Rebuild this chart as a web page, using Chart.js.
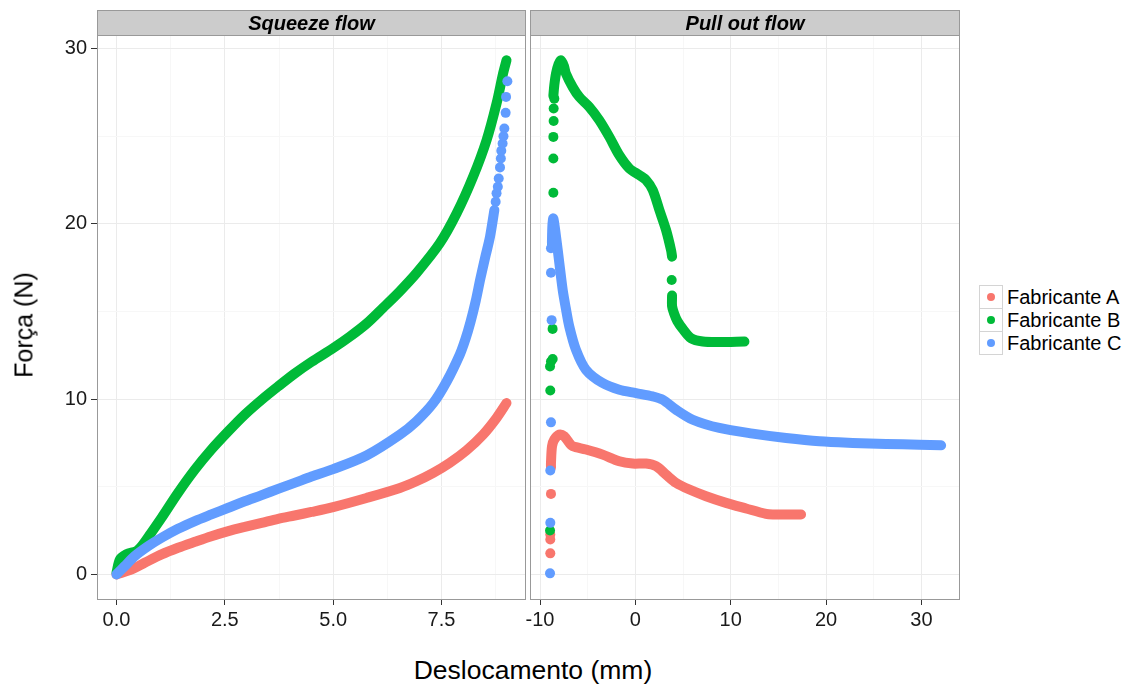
<!DOCTYPE html>
<html lang="pt">
<head>
<meta charset="utf-8">
<title>Squeeze flow / Pull out flow</title>
<script src="https://cdn.jsdelivr.net/npm/chart.js@4.4.1/dist/chart.umd.min.js"></script>
<style>
  body { margin: 0; background: #fff; }
  #quadro { position: relative; width: 1135px; height: 686px; font-family: "Liberation Sans", Arial, sans-serif; color: #000; overflow: hidden; }
  canvas { position: absolute; top: 0; }
  #squeeze { left: 0; }
  #pull { left: 500px; }
  #tituloX { position: absolute; left: 533px; top: 657px; transform: translateX(-50%); font-size: 26.5px; line-height: 1; white-space: nowrap; }
  #tituloY { position: absolute; left: 24px; top: 325px; transform: translate(-50%, -50%) rotate(-90deg); font-size: 25px; line-height: 1; white-space: nowrap; }
  #legenda { position: absolute; left: 979px; top: 285px; }
  .item { display: flex; align-items: center; height: 24px; font-size: 20px; line-height: 24px; white-space: nowrap; }
  .item + .item { margin-top: -1px; }
  .chave { width: 24px; height: 24px; box-sizing: border-box; border: 1px solid #d4d4d4; display: flex; align-items: center; justify-content: center; margin-right: 4px; background: #fff; }
  .chave i { width: 8px; height: 8px; border-radius: 50%; display: block; }
</style>
</head>
<body>
<div id="quadro">
  <canvas id="squeeze" width="528" height="640"></canvas>
  <canvas id="pull" width="462" height="640"></canvas>
  <div id="tituloX">Deslocamento (mm)</div>
  <div id="tituloY">Força (N)</div>
  <div id="legenda"></div>
</div>

<script>
// fabricantes e cores (paleta padrão do ggplot)
const fabricantes = ['Fabricante A', 'Fabricante B', 'Fabricante C'];
const cores = ['#F8766D', '#00BA38', '#619CFF'];

// Squeeze flow: [deslocamento (mm), força (N)]
const squeezeA = [[0,0],[0.35,0.28],[0.65,0.66],[1.04,1.14],[1.42,1.52],[1.81,1.86],[2.19,2.18],[2.58,2.47],
  [2.96,2.71],[3.35,2.94],[3.73,3.17],[4.11,3.36],[4.5,3.56],[5.0,3.84],[5.77,4.36],[6.54,4.93],[6.92,5.31],
  [7.31,5.79],[7.69,6.36],[8.08,7.08],[8.46,7.97],[8.77,8.92],[9.0,9.77]];
const squeezeB = [[0,0.1],[0.08,0.85],[0.23,1.15],[0.46,1.33],[0.58,1.61],[0.8,2.37],[1.04,3.23],[1.42,4.65],
  [1.81,5.98],[2.19,7.12],[2.58,8.16],[2.96,9.11],[3.35,9.96],[3.73,10.72],[4.11,11.45],[4.5,12.12],[5.0,12.9],
  [5.38,13.55],[5.77,14.3],[6.15,15.2],[6.54,16.15],[6.92,17.17],[7.46,18.88],[7.85,20.59],[8.23,22.68],
  [8.54,24.76],[8.77,26.85],[8.92,28.56],[9.0,29.32]];
const squeezeC = [[0,0],[0.19,0.47],[0.42,1.04],[0.73,1.61],[1.04,2.09],[1.42,2.6],[1.81,3.04],[2.19,3.42],
  [2.58,3.8],[2.96,4.17],[3.35,4.52],[3.73,4.88],[4.11,5.22],[4.5,5.58],[5.0,6.0],[5.77,6.78],[6.54,7.97],
  [6.92,8.73],[7.31,9.77],[7.62,11.0],[7.92,12.52],[8.05,13.4],[8.17,14.4],[8.29,15.6],[8.4,16.9],[8.52,18.2],
  [8.62,19.26],[8.72,20.78]];
const squeezeCSoltos = [[8.75,21.25],[8.77,21.73],[8.8,22.11],[8.82,22.58],[8.85,23.21],[8.87,23.72],[8.88,24.16],
  [8.91,24.57],[8.93,24.99],[8.95,25.43],[8.98,26.32],[8.99,27.23],[9.02,28.12]];

// Pull out flow
const pullA = [[-8.85,6.1],[-8.85,6.36],[-8.74,7.31],[-8.5,7.69],[-7.97,7.97],[-7.45,7.87],[-6.93,7.5],[-6.58,7.31],
  [-5.18,7.12],[-3.43,6.83],[-1.68,6.45],[-0.28,6.32],[1.12,6.32],[2.17,6.17],[3.22,5.69],[4.27,5.22],[5.67,4.84],
  [7.42,4.46],[9.51,4.08],[11.61,3.76],[13.71,3.45],[14.41,3.42],[17.38,3.42]];
const pullASoltos = [[-8.85,4.59],[-8.92,2.28],[-8.92,1.99],[-8.92,1.2]];
const pullB = [[-8.6,27.3],[-8.5,27.9],[-8.32,28.56],[-8.05,29.1],[-7.8,29.32],[-7.5,29.0],[-7.28,28.56],[-6.58,27.8],
  [-5.88,27.23],[-4.83,26.66],[-3.78,25.9],[-2.73,24.95],[-1.68,23.9],[-0.63,23.15],[0.42,22.77],[1.12,22.49],
  [1.82,21.92],[2.52,20.78],[3.22,19.64],[3.74,18.5],[3.85,18.12]];
const pullB2 = [[3.85,15.9],[3.85,15.3],[4.05,14.9],[4.4,14.45],[4.97,14.0],[5.84,13.47],[7.07,13.28],[8.81,13.25],[11.44,13.28]];
const pullBSoltos = [[3.81,16.79],[-8.5,27.13],[-8.57,26.57],[-8.57,25.86],[-8.6,24.95],[-8.6,23.72],[-8.6,21.76],
  [-8.74,18.88],[-8.68,14.0],[-8.85,12.14],[-8.67,12.28],[-8.95,11.86],[-8.92,10.49],[-8.95,2.5]];
const pullC = [[-8.75,18.9],[-8.7,19.9],[-8.6,20.3],[-8.32,19.26],[-7.97,17.74],[-7.62,16.22],[-7.3,15.2],[-6.93,14.14],
  [-6.23,12.81],[-5.18,11.67],[-3.43,10.91],[-1.68,10.53],[0.07,10.34],[1.82,10.15],[2.87,9.96],[4.27,9.39],
  [6.02,8.82],[8.81,8.35],[12.31,8.03],[15.81,7.78],[19.31,7.59],[22.8,7.5],[26.3,7.44],[29.8,7.4],[32.07,7.36]];
const pullCSoltos = [[-8.85,18.6],[-8.85,17.2],[-8.78,14.5],[-8.85,8.67],[-8.92,5.92],[-8.92,2.94],[-8.95,0.06]];

// eixos
const ticksY = [0, 10, 20, 30];
const gradeMenorY = [5, 15, 25];
const ticksSqueeze = [0, 2.5, 5, 7.5];
const gradeMenorSqueeze = [1.25, 3.75, 6.25, 8.75];
const ticksPull = [-10, 0, 10, 20, 30];
const gradeMenorPull = [-5, 5, 15, 25];

const fonte = '"Liberation Sans", Arial, sans-serif';

const painelPlugin = {
  id: 'painel',
  afterDatasetsDraw(chart, args, opts) {
    const { ctx, chartArea: a } = chart;
    ctx.save();
    ctx.strokeStyle = '#999999';
    ctx.lineWidth = 1;
    ctx.strokeRect(a.left + 0.5, a.top + 0.5, a.width - 1, a.height - 1);
    // faixa do título (strip)
    ctx.fillStyle = '#CCCCCC';
    ctx.fillRect(a.left, 10, a.width, a.top - 10);
    ctx.strokeRect(a.left + 0.5, 10.5, a.width - 1, a.top - 10);
    ctx.fillStyle = '#000';
    ctx.font = 'italic bold 20px ' + fonte;
    ctx.textAlign = 'center';
    ctx.textBaseline = 'alphabetic';
    ctx.fillText(opts.titulo, (a.left + a.right) / 2, 30);
    ctx.restore();
  }
};

function pts(lista) {
  return lista.map(p => ({ x: p[0], y: p[1] }));
}

function serieDensa(lista, i) {
  return {
    label: fabricantes[i], data: pts(lista), showLine: true, tension: 0.3,
    borderColor: cores[i], backgroundColor: cores[i], borderWidth: 10,
    borderCapStyle: 'round', borderJoinStyle: 'round', pointRadius: 0, order: 3 - i
  };
}

function serieSolta(lista, i) {
  return {
    label: fabricantes[i], data: pts(lista), showLine: false,
    backgroundColor: cores[i], borderColor: cores[i], pointRadius: 5, pointBorderWidth: 0, order: 3 - i
  };
}

function eixo(maiores, menores, min, max) {
  const todos = maiores.concat(menores).sort((a, b) => a - b);
  return {
    type: 'linear', min: min, max: max,
    afterBuildTicks: s => { s.ticks = todos.map(v => ({ value: v })); },
    grid: {
      color: c => maiores.includes(c.tick.value) ? '#EBEBEB' : '#F7F7F7',
      tickColor: c => maiores.includes(c.tick.value) ? '#333333' : 'rgba(0,0,0,0)',
      lineWidth: 1
    },
    border: { display: false },
    ticks: {
      autoSkip: false, maxRotation: 0, color: '#1a1a1a',
      font: { family: fonte, size: 20 }
    }
  };
}

function montarGrafico(id, titulo, datasets, xEixo, comRotulosY) {
  const yEixo = eixo(ticksY, gradeMenorY, -1.46, 30.76);
  if (comRotulosY) {
    yEixo.grid.tickLength = 6;
    yEixo.ticks.padding = 4;
    yEixo.ticks.callback = v => ticksY.includes(v) ? String(v) : '';
    yEixo.afterFit = s => { s.width = 97; };
  } else {
    yEixo.grid.drawTicks = false;
    yEixo.ticks.display = false;
    yEixo.afterFit = s => { s.width = 30; };
  }
  return new Chart(document.getElementById(id), {
    type: 'scatter',
    data: { datasets: datasets },
    options: {
      responsive: false, animation: false, devicePixelRatio: 1, events: [],
      layout: { autoPadding: false, padding: { top: 35, right: 2, left: 0, bottom: 0 } },
      scales: { x: xEixo, y: yEixo },
      plugins: { legend: { display: false }, tooltip: { enabled: false }, painel: { titulo: titulo } }
    },
    plugins: [painelPlugin]
  });
}

const xSqueeze = eixo(ticksSqueeze, gradeMenorSqueeze, -0.45, 9.45);
xSqueeze.grid.tickLength = 5;
xSqueeze.ticks.padding = 3;
xSqueeze.ticks.callback = v => ticksSqueeze.includes(v) ? v.toFixed(1) : '';
xSqueeze.afterFit = s => { s.height = 40; };

const xPull = eixo(ticksPull, gradeMenorPull, -11.05, 34.05);
xPull.grid.tickLength = 5;
xPull.ticks.padding = 3;
xPull.ticks.callback = v => ticksPull.includes(v) ? String(v) : '';
xPull.afterFit = s => { s.height = 40; };

montarGrafico('squeeze', 'Squeeze flow', [
  serieDensa(squeezeA, 0),
  serieDensa(squeezeB, 1),
  serieDensa(squeezeC, 2),
  serieSolta(squeezeCSoltos, 2)
], xSqueeze, true);

montarGrafico('pull', 'Pull out flow', [
  serieDensa(pullA, 0),
  serieSolta(pullASoltos, 0),
  serieDensa(pullB, 1),
  serieDensa(pullB2, 1),
  serieSolta(pullBSoltos, 1),
  serieDensa(pullC, 2),
  serieSolta(pullCSoltos, 2)
], xPull, false);

// legenda
const legenda = document.getElementById('legenda');
fabricantes.forEach((nome, i) => {
  const item = document.createElement('div');
  item.className = 'item';
  item.innerHTML = `<span class="chave"><i style="background:${cores[i]}"></i></span>${nome}`;
  legenda.appendChild(item);
});
</script>
</body>
</html>
